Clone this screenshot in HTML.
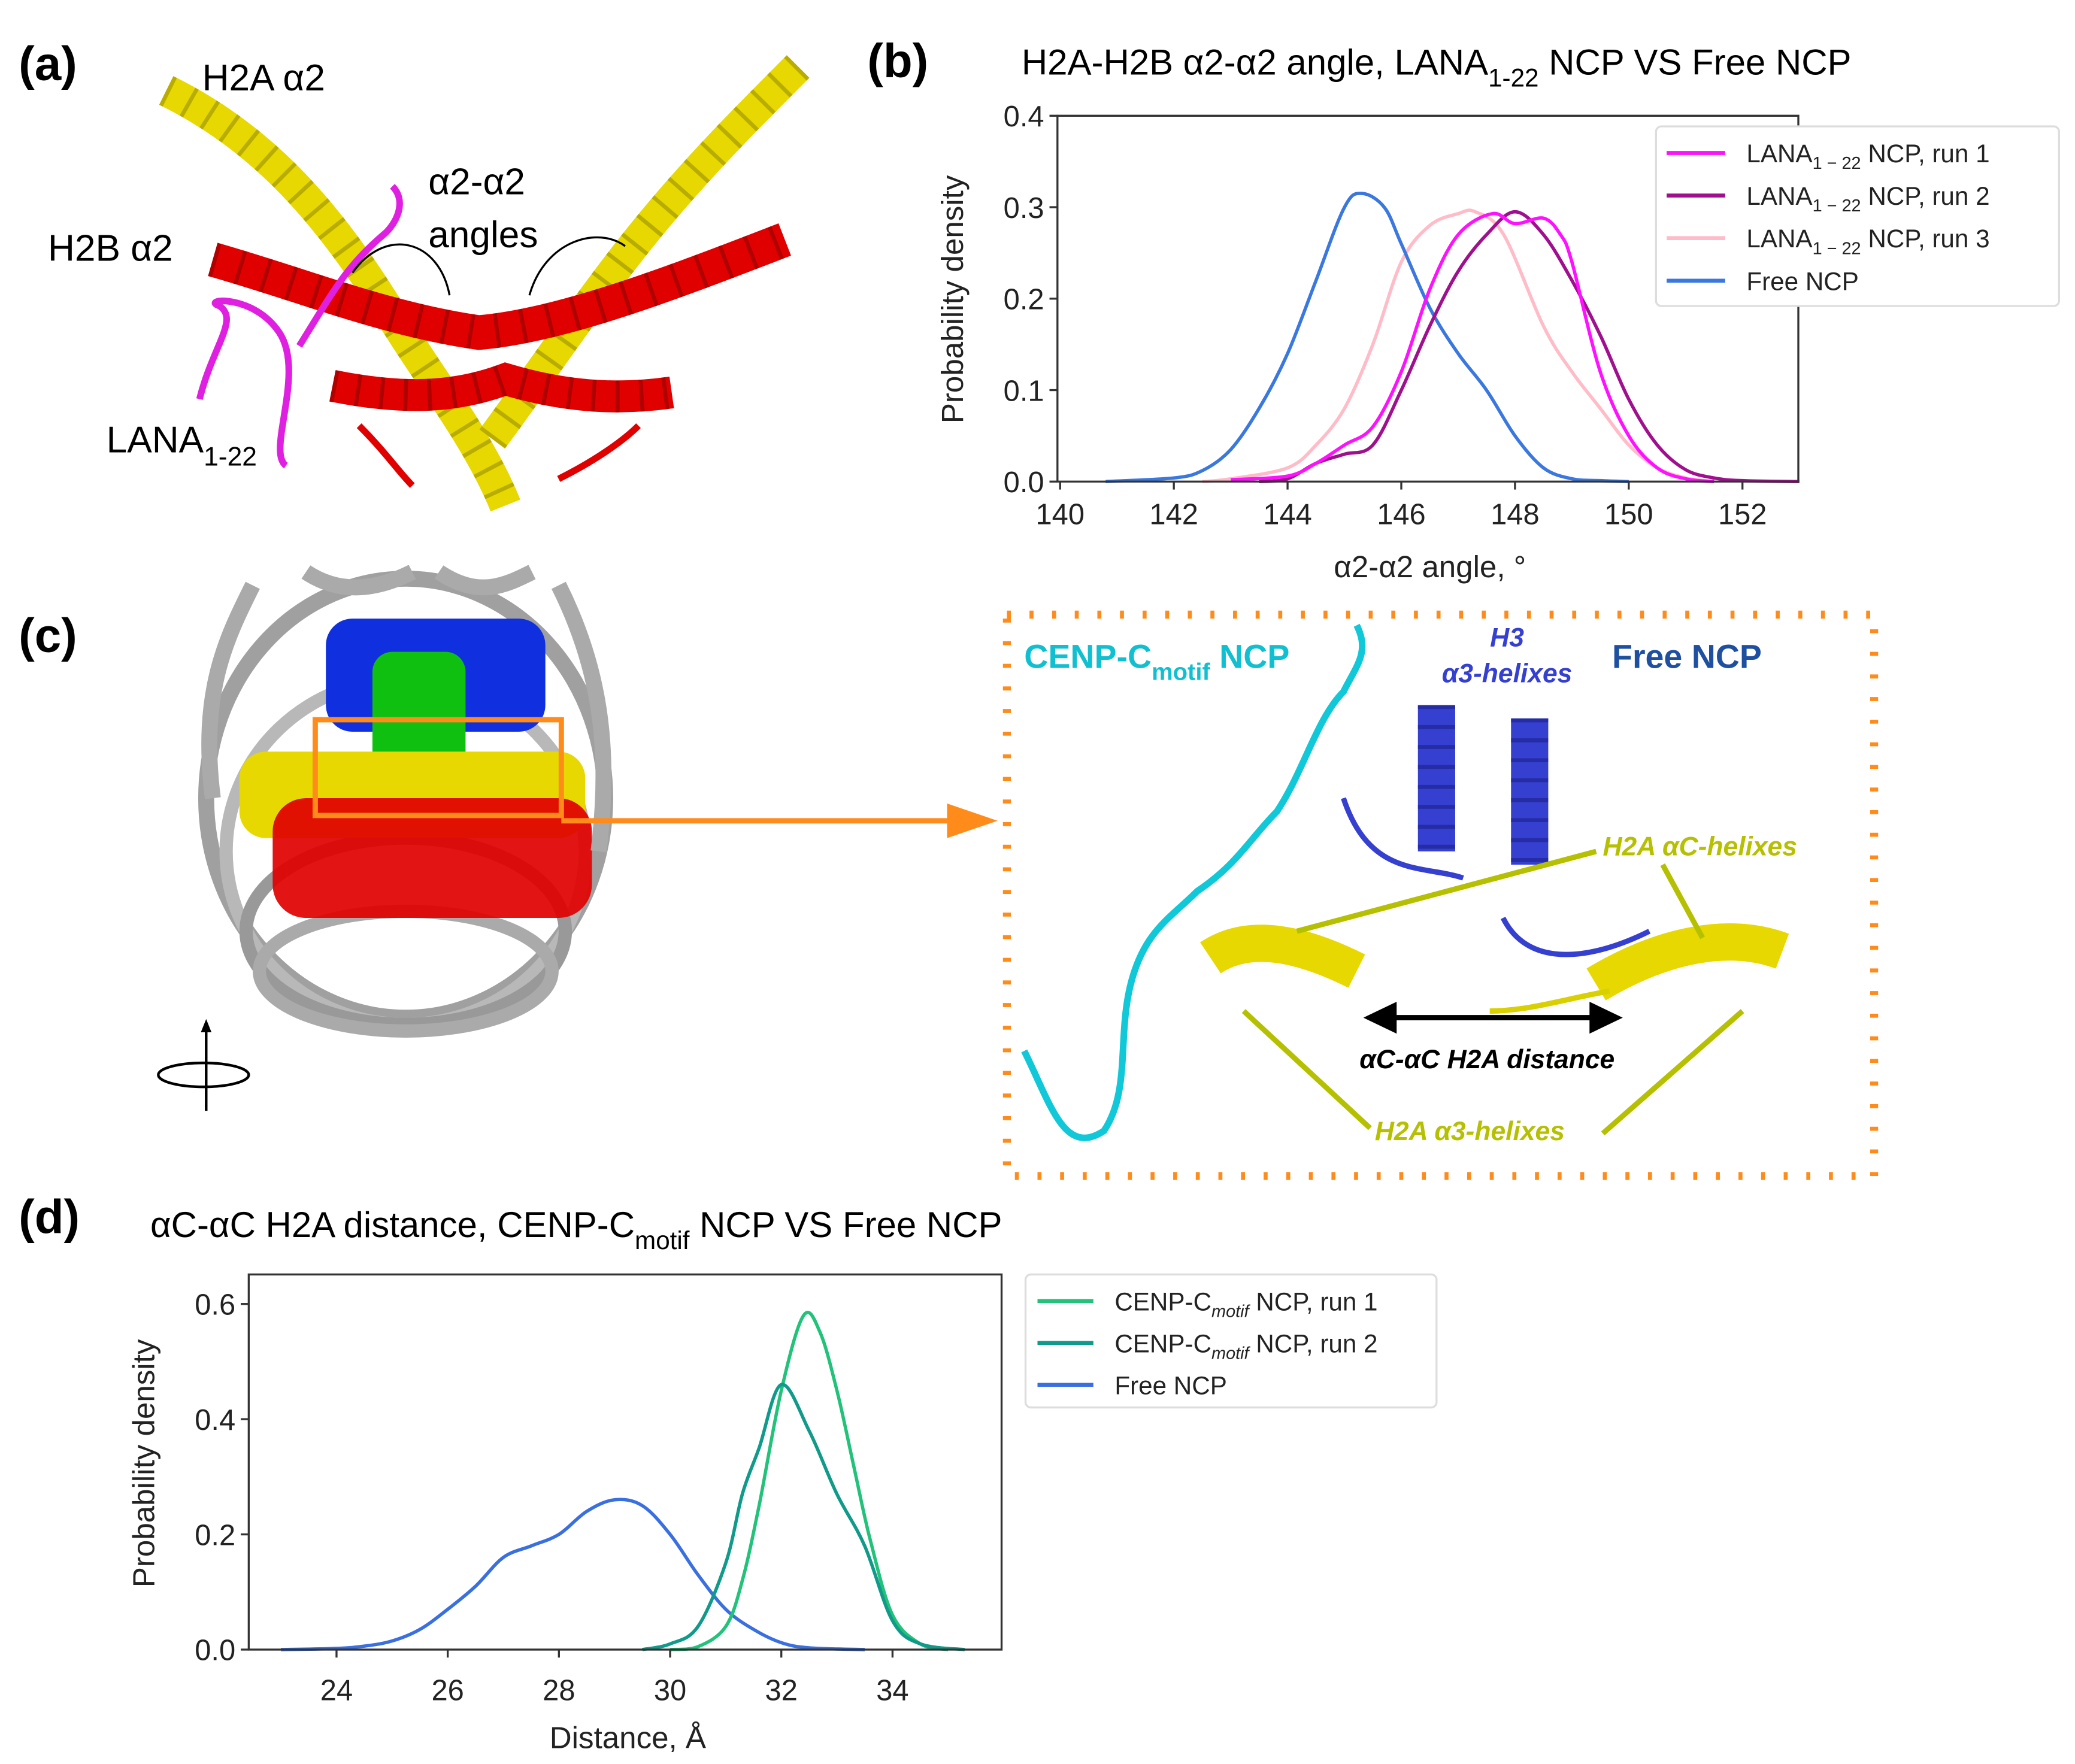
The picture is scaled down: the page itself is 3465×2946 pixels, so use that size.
<!DOCTYPE html>
<html><head><meta charset="utf-8"><style>
html,body{margin:0;padding:0;background:#fff;}
svg{display:block;font-family:"Liberation Sans","DejaVu Sans",sans-serif;}
</style></head><body>
<svg id="fig" width="3465" height="2946" viewBox="0 0 1560 1326" preserveAspectRatio="none" xmlns="http://www.w3.org/2000/svg">
<rect width="1560" height="1326" fill="#fff"/>

<text x="14" y="60" font-size="36" font-weight="bold">(a)</text>
<text x="652" y="58" font-size="36" font-weight="bold">(b)</text>
<text x="14" y="490" font-size="36" font-weight="bold">(c)</text>
<text x="14" y="927" font-size="36" font-weight="bold">(d)</text>

<g>
  <path d="M125,68 C190,100 240,150 290,230 C320,280 360,330 380,380" stroke="#e6d800" stroke-width="24" fill="none"/>
  <path d="M125,68 C190,100 240,150 290,230 C320,280 360,330 380,380" stroke="#9a9000" stroke-width="24" fill="none" stroke-dasharray="3 15" opacity="0.6"/>
  <path d="M600,50 C560,90 520,130 480,180 C440,230 400,290 370,330" stroke="#e6d800" stroke-width="24" fill="none"/>
  <path d="M600,50 C560,90 520,130 480,180 C440,230 400,290 370,330" stroke="#9a9000" stroke-width="24" fill="none" stroke-dasharray="3 15" opacity="0.6"/>
  <path d="M160,195 C230,215 290,240 360,250 C420,245 500,215 590,180" stroke="#e00000" stroke-width="26" fill="none"/>
  <path d="M160,195 C230,215 290,240 360,250 C420,245 500,215 590,180" stroke="#900000" stroke-width="26" fill="none" stroke-dasharray="3 17" opacity="0.6"/>
  <path d="M250,290 C300,300 340,300 380,285 C430,300 470,300 505,295" stroke="#e00000" stroke-width="24" fill="none"/>
  <path d="M250,290 C300,300 340,300 380,285 C430,300 470,300 505,295" stroke="#900000" stroke-width="24" fill="none" stroke-dasharray="3 15" opacity="0.6"/>
  <path d="M270,320 C290,340 300,355 310,365 M420,360 C450,345 470,330 480,320" stroke="#e00000" stroke-width="5" fill="none"/>
  <path d="M150,300 C160,260 180,240 165,230 C150,225 190,220 210,250 C230,280 200,340 215,350 M225,260 C250,220 260,200 290,175 C300,165 305,150 295,140" stroke="#e020e0" stroke-width="5" fill="none"/>
  <path d="M265,205 C290,170 330,180 338,222" stroke="#000" stroke-width="1.5" fill="none"/>
  <path d="M398,222 C410,180 450,170 470,185" stroke="#000" stroke-width="1.5" fill="none"/>
</g>
<text x="152" y="68" font-size="28">H2A α2</text>
<text x="36" y="196" font-size="28">H2B α2</text>
<text x="322" y="146" font-size="28">α2-α2</text>
<text x="322" y="186" font-size="28">angles</text>
<text x="80" y="340" font-size="28">LANA<tspan font-size="20" dy="10">1-22</tspan></text>

<g>
  <ellipse cx="305" cy="600" rx="150" ry="165" fill="none" stroke="#a0a0a0" stroke-width="12"/>
  <ellipse cx="305" cy="640" rx="135" ry="130" fill="none" stroke="#b8b8b8" stroke-width="10"/>
  <ellipse cx="305" cy="700" rx="120" ry="70" fill="none" stroke="#999" stroke-width="10"/>
  <ellipse cx="305" cy="730" rx="110" ry="45" fill="none" stroke="#aaa" stroke-width="10"/>
  <rect x="245" y="465" width="165" height="85" rx="20" fill="#1030e0"/>
  <rect x="280" y="490" width="70" height="130" rx="15" fill="#10c010"/>
  <rect x="180" y="565" width="260" height="65" rx="20" fill="#e6d800"/>
  <rect x="205" y="600" width="240" height="90" rx="25" fill="#e00000" opacity="0.92"/>
  <path d="M190,440 C170,480 150,520 160,600 M420,440 C450,500 460,560 450,640 M230,430 C260,450 290,440 310,430 M330,430 C360,450 380,440 400,430" stroke="#aaa" stroke-width="12" fill="none"/>
  <rect x="237" y="541" width="185" height="72" fill="none" stroke="#ff8c1a" stroke-width="4"/>
</g>
<line x1="422" y1="617" x2="735" y2="617" stroke="#ff8c1a" stroke-width="4"/>
<polygon points="750,617 712,604 712,630" fill="#ff8c1a"/>
<g>
  <line x1="155" y1="770" x2="155" y2="835" stroke="#000" stroke-width="2"/>
  <polygon points="155,766 151,776 159,776" fill="#000"/>
  <ellipse cx="153" cy="808" rx="34" ry="9" fill="none" stroke="#000" stroke-width="2"/>
</g>

<rect x="757" y="462" width="652" height="422" fill="none" stroke="#ff8c1a" stroke-width="6" stroke-dasharray="3 14"/>
<g>
  <path d="M770,790 C790,830 800,870 830,850 C850,820 840,780 850,740 C860,700 880,690 900,670 C930,650 940,630 960,610 C980,580 990,540 1010,520 C1020,500 1030,490 1020,470" stroke="#10c8d8" stroke-width="5" fill="none"/>
  <path d="M1080,530 L1080,640 M1150,540 L1150,650" stroke="#3540d0" stroke-width="28" fill="none"/>
  <path d="M1080,530 L1080,640 M1150,540 L1150,650" stroke="#1a208a" stroke-width="28" fill="none" stroke-dasharray="3 12" opacity="0.6"/>
  <path d="M1010,600 C1030,660 1070,650 1100,660 M1130,690 C1150,730 1200,720 1240,700" stroke="#3540d0" stroke-width="4" fill="none"/>
  <path d="M910,720 C940,700 980,710 1020,730" stroke="#e6d800" stroke-width="28" fill="none"/>
  <path d="M1200,740 C1250,710 1300,700 1340,715" stroke="#e6d800" stroke-width="28" fill="none"/>
  <path d="M1120,760 C1150,760 1180,750 1210,745" stroke="#d8d000" stroke-width="4" fill="none"/>
  <line x1="975" y1="700" x2="1200" y2="640" stroke="#b5c000" stroke-width="4"/>
  <line x1="1250" y1="650" x2="1280" y2="705" stroke="#b5c000" stroke-width="4"/>
  <line x1="935" y1="760" x2="1030" y2="848" stroke="#b5c000" stroke-width="4"/>
  <line x1="1310" y1="760" x2="1205" y2="852" stroke="#b5c000" stroke-width="4"/>
  <line x1="1040" y1="765" x2="1205" y2="765" stroke="#000" stroke-width="4"/>
  <polygon points="1025,765 1050,753 1050,777" fill="#000"/>
  <polygon points="1220,765 1195,753 1195,777" fill="#000"/>
</g>
<text x="770" y="502" font-size="25" font-weight="bold" fill="#10c0d0">CENP-C<tspan font-size="18" dy="9">motif</tspan><tspan dy="-9"> NCP</tspan></text>
<text x="1133" y="486" font-size="20" font-weight="bold" font-style="italic" fill="#3540d0" text-anchor="middle">H3</text>
<text x="1133" y="513" font-size="20" font-weight="bold" font-style="italic" fill="#3540d0" text-anchor="middle">α3-helixes</text>
<text x="1212" y="502" font-size="25" font-weight="bold" fill="#1f4fa0">Free NCP</text>
<text x="1205" y="643" font-size="20" font-weight="bold" font-style="italic" fill="#b5c000">H2A αC-helixes</text>
<text x="1118" y="803" font-size="20" font-weight="bold" font-style="italic" text-anchor="middle">αC-αC H2A distance</text>
<text x="1105" y="857" font-size="20" font-weight="bold" font-style="italic" fill="#b5c000" text-anchor="middle">H2A α3-helixes</text>

<g id="chartB"></g>
<g id="chartD"></g>
</svg>
<script>
// ---------- Chart B data ----------
const bXTicks = [140,142,144,146,148,150,152];
const bYTicks = [0.0,0.1,0.2,0.3,0.4];
const bFreeX = [140.8,142,142.5,143,143.5,144,144.5,145,145.3,145.7,146,146.5,147,147.5,148,148.5,149,149.5,150];
const bFreeY = [0,0.004,0.012,0.035,0.08,0.14,0.22,0.3,0.315,0.3,0.26,0.19,0.14,0.1,0.05,0.015,0.003,0.001,0];
const bRun1X = [143,144,144.5,145,145.5,146,146.5,147,147.6,148,148.5,148.8,149,149.5,150,150.5,151,151.5];
const bRun1Y = [0.002,0.006,0.02,0.04,0.06,0.12,0.21,0.27,0.293,0.282,0.288,0.27,0.24,0.12,0.05,0.015,0.003,0];
const bRun2X = [143.5,144,144.5,145,145.5,146,146.5,147,147.5,148,148.5,149,149.5,150,150.5,151,151.5,152,153];
const bRun2Y = [0,0.003,0.02,0.03,0.04,0.1,0.17,0.23,0.27,0.295,0.27,0.22,0.16,0.09,0.04,0.013,0.004,0.001,0];
const bRun3X = [142.5,143,144,144.5,145,145.5,146,146.5,147,147.3,147.8,148.5,149,149.5,150,150.5,151,151.5];
const bRun3Y = [0,0.003,0.015,0.04,0.08,0.15,0.24,0.28,0.293,0.295,0.27,0.17,0.12,0.08,0.04,0.015,0.004,0];
const bLabels = ["LANA","LANA","LANA","Free NCP"];
// ---------- Chart D data ----------
const dXTicks = [24,26,28,30,32,34];
const dYTicks = [0.0,0.2,0.4,0.6];
const dFreeX = [23,24,24.5,25,25.5,26,26.5,27,27.5,28,28.5,29,29.5,30,30.5,31,31.5,32,32.5,33.5];
const dFreeY = [0,0.002,0.006,0.015,0.035,0.07,0.11,0.16,0.18,0.2,0.24,0.26,0.25,0.2,0.13,0.07,0.035,0.012,0.003,0];
const dRun1X = [30,30.5,31,31.3,31.6,32,32.4,32.7,33,33.3,33.6,34,34.5,35];
const dRun1Y = [0,0.005,0.04,0.12,0.25,0.45,0.58,0.55,0.45,0.32,0.19,0.06,0.01,0];
const dRun2X = [29.5,30,30.5,31,31.3,31.6,32,32.5,33,33.5,34,34.5,35.3];
const dRun2Y = [0,0.01,0.04,0.15,0.27,0.35,0.46,0.38,0.27,0.18,0.05,0.01,0];

const NS='http://www.w3.org/2000/svg';
function mk(parent,tag,attrs,text){const e=document.createElementNS(NS,tag);for(const k in attrs)e.setAttribute(k,attrs[k]);if(text!==undefined)e.textContent=text;parent.appendChild(e);return e;}
function pathFrom(xs,ys,sx,sy){
  const p=xs.map((v,i)=>[sx(v),sy(ys[i])]);
  let d='M'+p[0][0].toFixed(1)+','+p[0][1].toFixed(1);
  for(let i=0;i<p.length-1;i++){
    const p0=p[Math.max(0,i-1)],p1=p[i],p2=p[i+1],p3=p[Math.min(p.length-1,i+2)];
    const c1=[p1[0]+(p2[0]-p0[0])/6,p1[1]+(p2[1]-p0[1])/6];
    const c2=[p2[0]-(p3[0]-p1[0])/6,p2[1]-(p3[1]-p1[1])/6];
    d+=' C'+c1.map(n=>n.toFixed(1)).join(',')+' '+c2.map(n=>n.toFixed(1)).join(',')+' '+p2[0].toFixed(1)+','+p2[1].toFixed(1);
  }
  return d;
}

(function(){
  const g=document.getElementById('chartB');
  const L=795,R=1352,T=87,B=362;
  const sx=v=>797+(v-140)*42.75, sy=v=>B-v*687.5;
  const t=mk(g,'text',{x:768,y:56,'font-size':27});
  
  
  t.innerHTML='H2A-H2B α2-α2 angle, LANA<tspan font-size="19" dy="9">1-22</tspan><tspan dy="-9"> NCP VS Free NCP</tspan>';
  const series=[[bRun3X,bRun3Y,'#ffbcc8','run3'],[bFreeX,bFreeY,'#3a78e0','free'],[bRun2X,bRun2Y,'#a0108e','run2'],[bRun1X,bRun1Y,'#ff10ff','run1']];
  series.forEach(s=>{const p=mk(g,'path',{d:pathFrom(s[0],s[1],sx,sy),stroke:s[2],'stroke-width':2.5,fill:'none'});
    
    });
  mk(g,'path',{d:`M${L},${B} L${L},${T} L${R},${T} L${R},${B} Z`,fill:'none',stroke:'#333','stroke-width':1.5});
  bXTicks.forEach(v=>{mk(g,'line',{x1:sx(v),x2:sx(v),y1:B,y2:B+6,stroke:'#333','stroke-width':1.5});
    const tt=mk(g,'text',{x:sx(v),y:B+32,'font-size':22,'text-anchor':'middle',fill:'#222'},String(v));
    
    });
  bYTicks.forEach(v=>{mk(g,'line',{x1:L-6,x2:L,y1:sy(v),y2:sy(v),stroke:'#333','stroke-width':1.5});
    const tt=mk(g,'text',{x:L-10,y:sy(v)+8,'font-size':22,'text-anchor':'end',fill:'#222'},v.toFixed(1));
    
    });
  const xl=mk(g,'text',{x:1075,y:434,'font-size':23,'text-anchor':'middle',fill:'#222'},'α2-α2 angle, °');
  
  
  const yl=mk(g,'text',{x:0,y:0,'font-size':23,'text-anchor':'middle',fill:'#222',transform:'translate(724,225) rotate(-90)'},'Probability density');
  
  
  const lg=mk(g,'g',{});
  
  
  mk(lg,'rect',{x:1245,y:95,width:303,height:135,rx:4,fill:'#fff',stroke:'#ddd','stroke-width':1.5});
  const cols=['#ff10ff','#a0108e','#ffbcc8','#3a78e0'];
  const runs=[', run 1',', run 2',', run 3',''];
  cols.forEach((c,i)=>{const y=115+i*32;
    mk(lg,'line',{x1:1253,x2:1297,y1:y,y2:y,stroke:c,'stroke-width':3});
    const tt=mk(lg,'text',{x:1313,y:y+7,'font-size':19,fill:'#222'});
    
    
    if(i<3) tt.innerHTML=bLabels[i]+'<tspan font-size="13" dy="5">1 − 22</tspan><tspan dy="-5"> NCP'+runs[i]+'</tspan>';
    else tt.textContent=bLabels[i];});
})();

(function(){
  const g=document.getElementById('chartD');
  const L=187,R=753,T=958,B=1240;
  const sx=v=>253+(v-24)*41.8, sy=v=>B-v*433;
  const t=mk(g,'text',{x:113,y:930,'font-size':27});
  
  
  t.innerHTML='αC-αC H2A distance, CENP-C<tspan font-size="19" dy="9">motif</tspan><tspan dy="-9"> NCP VS Free NCP</tspan>';
  const series=[[dFreeX,dFreeY,'#3a6fe0','free'],[dRun1X,dRun1Y,'#22c27a','run1'],[dRun2X,dRun2Y,'#109a8a','run2']];
  series.forEach(s=>{const p=mk(g,'path',{d:pathFrom(s[0],s[1],sx,sy),stroke:s[2],'stroke-width':2.5,fill:'none'});
    
    });
  mk(g,'path',{d:`M${L},${B} L${L},${T} L${R},${T} L${R},${B} Z`,fill:'none',stroke:'#333','stroke-width':1.5});
  dXTicks.forEach(v=>{mk(g,'line',{x1:sx(v),x2:sx(v),y1:B,y2:B+6,stroke:'#333','stroke-width':1.5});
    const tt=mk(g,'text',{x:sx(v),y:B+38,'font-size':22,'text-anchor':'middle',fill:'#222'},String(v));
    
    });
  dYTicks.forEach(v=>{mk(g,'line',{x1:L-6,x2:L,y1:sy(v),y2:sy(v),stroke:'#333','stroke-width':1.5});
    const tt=mk(g,'text',{x:L-10,y:sy(v)+8,'font-size':22,'text-anchor':'end',fill:'#222'},v.toFixed(1));
    
    });
  const xl=mk(g,'text',{x:472,y:1314,'font-size':23,'text-anchor':'middle',fill:'#222'},'Distance, Å');
  
  
  const yl=mk(g,'text',{x:0,y:0,'font-size':23,'text-anchor':'middle',fill:'#222',transform:'translate(116,1100) rotate(-90)'},'Probability density');
  
  
  const lg=mk(g,'g',{});
  
  
  mk(lg,'rect',{x:771,y:958,width:309,height:100,rx:4,fill:'#fff',stroke:'#ddd','stroke-width':1.5});
  const cols=['#22c27a','#109a8a','#3a6fe0'];
  const runs=[', run 1',', run 2'];
  cols.forEach((c,i)=>{const y=978+i*31.5;
    mk(lg,'line',{x1:780,x2:822,y1:y,y2:y,stroke:c,'stroke-width':3});
    const tt=mk(lg,'text',{x:838,y:y+7,'font-size':19,fill:'#222'});
    
    
    if(i<2) tt.innerHTML='CENP-C<tspan font-size="13" dy="5" font-style="italic">motif</tspan><tspan dy="-5"> NCP'+runs[i]+'</tspan>';
    else tt.textContent='Free NCP';});
})();
</script>
</body></html>
